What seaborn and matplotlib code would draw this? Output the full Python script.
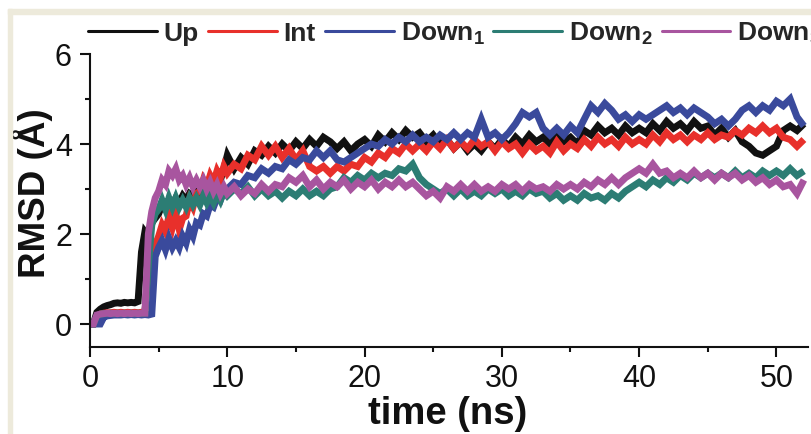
import numpy as np
import pandas as pd
import matplotlib
matplotlib.use("Agg")
import matplotlib.pyplot as plt
from matplotlib.lines import Line2D
from matplotlib.patches import Rectangle
from matplotlib.ticker import MultipleLocator
import seaborn as sns

# ---- data: RMSD (Angstrom) vs simulation time (ns) ----
# sampling: every 0.25 ns up to 10 ns, then every 0.5 ns up to 52 ns
time_ns = np.concatenate([np.arange(0, 10, 0.25), np.arange(10, 52.01, 0.5)])

rmsd_up = [
    0.00, 0.00, 0.26, 0.33, 0.38, 0.41, 0.43, 0.46, 0.47, 0.46,
    0.48, 0.47, 0.48, 0.47, 0.50, 1.60, 2.05, 1.95, 2.25, 2.35,
    2.45, 2.65, 2.55, 2.75, 2.65, 2.80, 2.70, 2.85, 2.75, 2.90,
    2.85, 3.05, 2.95, 3.15, 3.05, 3.25, 3.10, 3.30, 3.20, 3.45,
    3.75, 3.45, 3.70, 3.55, 3.85, 3.75, 3.95, 3.80, 4.00, 3.85,
    4.05, 3.90, 4.10, 3.95, 4.15, 4.05, 3.90, 4.05, 3.85, 4.00,
    4.10, 3.95, 4.20, 4.05, 4.25, 4.10, 4.30, 4.15, 4.25, 4.05,
    4.20, 4.00, 4.10, 3.90, 4.05, 3.85, 4.00, 3.85, 4.05, 3.90,
    4.10, 3.95, 4.15, 4.00, 4.20, 4.05, 4.15, 4.00, 4.20, 4.05,
    4.15, 4.00, 4.30, 4.20, 4.40, 4.25, 4.35, 4.20, 4.40, 4.25,
    4.35, 4.25, 4.45, 4.30, 4.50, 4.35, 4.45, 4.30, 4.50, 4.35,
    4.40, 4.20, 4.35, 4.15, 4.30, 4.05, 3.95, 3.80, 3.75, 3.85,
    3.95, 4.30, 4.40, 4.30, 4.45,
]

rmsd_int = [
    0.00, 0.00, 0.12, 0.22, 0.24, 0.25, 0.25, 0.26, 0.25, 0.26,
    0.25, 0.26, 0.25, 0.26, 0.25, 0.26, 0.26, 1.20, 1.60, 1.75,
    1.95, 2.20, 2.05, 2.40, 2.15, 2.45, 2.10, 2.35, 2.40, 2.75,
    2.60, 2.90, 2.95, 3.20, 3.05, 3.30, 3.15, 3.40, 3.25, 3.50,
    3.35, 3.55, 3.45, 3.75, 3.65, 3.95, 3.75, 3.95, 3.70, 3.90,
    3.65, 3.85, 3.50, 3.40, 3.50, 3.35, 3.50, 3.40, 3.55, 3.50,
    3.70, 3.60, 3.80, 3.70, 3.90, 3.80, 4.00, 3.85, 4.00, 3.85,
    4.05, 3.90, 4.10, 3.90, 4.05, 3.90, 4.10, 3.95, 4.05, 3.85,
    4.05, 3.90, 4.00, 3.80, 4.00, 3.85, 3.95, 3.80, 4.05, 3.85,
    4.00, 3.90, 4.10, 3.95, 4.15, 4.00, 4.10, 3.95, 4.15, 4.00,
    4.10, 4.00, 4.20, 4.05, 4.25, 4.10, 4.20, 4.05, 4.20, 4.10,
    4.25, 4.10, 4.20, 4.15, 4.30, 4.20, 4.35, 4.25, 4.40, 4.25,
    4.35, 4.15, 4.10, 3.95, 4.10,
]

rmsd_down1 = [
    0.00, 0.00, 0.00, 0.00, 0.15, 0.18, 0.19, 0.20, 0.20, 0.20,
    0.21, 0.20, 0.21, 0.20, 0.21, 0.20, 0.21, 0.20, 0.22, 1.50,
    1.70, 1.85, 1.65, 1.90, 1.70, 1.85, 1.70, 1.95, 1.80, 2.10,
    1.95, 2.25, 2.20, 2.45, 2.40, 2.65, 2.60, 2.80, 2.75, 2.95,
    3.00, 3.15, 3.10, 3.30, 3.25, 3.45, 3.35, 3.50, 3.45, 3.65,
    3.55, 3.70, 3.65, 3.85, 3.70, 3.85, 3.65, 3.60, 3.70, 3.80,
    3.90, 4.00, 3.95, 4.10, 4.00, 4.15, 4.05, 4.20, 4.05, 4.15,
    4.05, 4.20, 4.10, 4.25, 4.10, 4.25, 4.15, 4.55, 4.15, 4.25,
    4.10, 4.25, 4.45, 4.70, 4.60, 4.70, 4.35, 4.20, 4.35, 4.20,
    4.40, 4.25, 4.55, 4.85, 4.70, 4.90, 4.75, 4.55, 4.65, 4.50,
    4.65, 4.55, 4.65, 4.75, 4.85, 4.70, 4.80, 4.65, 4.80, 4.70,
    4.60, 4.45, 4.55, 4.40, 4.55, 4.75, 4.85, 4.70, 4.85, 4.75,
    4.95, 4.85, 5.00, 4.60, 4.40,
]

rmsd_down2 = [
    0.00, 0.00, 0.18, 0.22, 0.23, 0.23, 0.24, 0.23, 0.24, 0.23,
    0.24, 0.23, 0.24, 0.23, 0.24, 0.23, 0.24, 1.30, 2.20, 2.45,
    2.55, 2.75, 2.55, 2.80, 2.60, 2.80, 2.60, 2.75, 2.60, 2.80,
    2.65, 2.80, 2.65, 2.85, 2.70, 2.85, 2.70, 2.90, 2.75, 2.95,
    2.85, 3.00, 2.90, 3.05, 2.85, 3.00, 2.85, 2.95, 2.80, 2.95,
    2.85, 3.00, 2.85, 2.95, 2.85, 3.00, 3.05, 3.25, 3.15, 3.30,
    3.20, 3.35, 3.25, 3.35, 3.30, 3.45, 3.40, 3.55, 3.25, 3.10,
    3.00, 2.90, 3.00, 2.85, 3.00, 2.85, 2.95, 2.85, 3.00, 2.90,
    3.00, 2.85, 2.95, 2.85, 3.00, 2.90, 2.95, 2.80, 2.90, 2.75,
    2.85, 2.75, 2.90, 2.80, 2.85, 2.75, 2.90, 2.80, 2.95, 3.05,
    3.15, 3.05, 3.20, 3.10, 3.25, 3.15, 3.30, 3.20, 3.35, 3.25,
    3.35, 3.25, 3.35, 3.25, 3.40, 3.25, 3.35, 3.25, 3.40, 3.30,
    3.40, 3.30, 3.45, 3.30, 3.40,
]

rmsd_down3 = [
    0.00, 0.00, 0.20, 0.22, 0.23, 0.24, 0.23, 0.24, 0.23, 0.24,
    0.23, 0.24, 0.23, 0.24, 0.23, 0.24, 0.24, 2.00, 2.50, 2.80,
    2.95, 3.20, 3.10, 3.40, 3.30, 3.45, 3.20, 3.30, 3.10, 3.25,
    3.05, 3.20, 3.05, 3.20, 3.00, 3.15, 2.95, 3.10, 2.90, 3.05,
    2.90, 3.05, 2.85, 3.00, 2.90, 3.10, 2.95, 3.10, 3.05, 3.25,
    3.15, 3.30, 3.05, 3.20, 3.00, 3.15, 3.05, 3.20, 3.00, 3.15,
    3.05, 3.20, 3.00, 3.15, 3.05, 3.20, 3.05, 3.15, 3.00, 2.85,
    2.95, 2.80, 3.05, 2.95, 3.10, 2.95, 3.10, 2.95, 3.05, 2.95,
    3.10, 3.00, 3.10, 2.95, 3.10, 3.00, 3.05, 2.95, 3.10, 3.00,
    3.10, 3.00, 3.15, 3.05, 3.20, 3.10, 3.25, 3.10, 3.25, 3.35,
    3.45, 3.35, 3.55, 3.35, 3.40, 3.25, 3.35, 3.25, 3.40, 3.25,
    3.35, 3.20, 3.35, 3.25, 3.35, 3.20, 3.30, 3.15, 3.25, 3.10,
    3.20, 3.05, 3.10, 2.90, 3.20,
]

systems = ["Up", "Int", "Down1", "Down2", "Down3"]
legend_labels = ["Up", "Int", r"Down$_\mathbf{1}$", r"Down$_\mathbf{2}$", r"Down$_\mathbf{3}$"]
colors = ["#111111", "#e8302b", "#3a4a9c", "#2c7d74", "#a8559f"]
x_ticks = [0, 10, 20, 30, 40, 50]
y_ticks = [0, 2, 4, 6]

series = [rmsd_up, rmsd_int, rmsd_down1, rmsd_down2, rmsd_down3]
df = pd.concat(
    [pd.DataFrame({"time": time_ns, "rmsd": vals, "system": name})
     for name, vals in zip(systems, series)],
    ignore_index=True,
)

# ---- style ----
sns.set_theme(style="ticks")
plt.rcParams["font.family"] = ["Liberation Sans", "DejaVu Sans"]
plt.rcParams["mathtext.fontset"] = "custom"
plt.rcParams["mathtext.rm"] = "Liberation Sans"
plt.rcParams["mathtext.bf"] = "Liberation Sans:bold"
plt.rcParams["mathtext.it"] = "Liberation Sans:italic"

W, H = 811, 435
fig = plt.figure(figsize=(W / 100, H / 100), dpi=100)
fig.patch.set_facecolor("white")

# page border strips
border = "#edeadb"
fig.patches.append(Rectangle((8 / W, 0), 4 / W, (H - 10) / H,
                             transform=fig.transFigure, color=border, zorder=0))
fig.patches.append(Rectangle((8 / W, (H - 15) / H), 1 - 8 / W, 5 / H,
                             transform=fig.transFigure, color=border, zorder=0))

ax = fig.add_axes([90 / W, 87.5 / H, 718 / W, 292.5 / H])
ax.set_facecolor("none")

# thick traces so each noisy RMSD series reads as a band
sns.lineplot(data=df, x="time", y="rmsd", hue="system", hue_order=systems,
             palette=colors, linewidth=5.0, estimator=None, sort=False,
             legend=False, ax=ax)
for ln in ax.get_lines():
    ln.set_solid_joinstyle("miter")
    ln.set_solid_capstyle("butt")

ax.set_xlim(0, 52.3)
ax.set_ylim(-0.5, 6)
ax.set_xticks(x_ticks)
ax.set_yticks(y_ticks)
ax.xaxis.set_minor_locator(MultipleLocator(5))
ax.yaxis.set_minor_locator(MultipleLocator(1))

for side in ("top", "right"):
    ax.spines[side].set_visible(False)
for side in ("left", "bottom"):
    ax.spines[side].set_linewidth(1.5)
    ax.spines[side].set_color("#111111")
    ax.spines[side].set_zorder(5)

ax.tick_params(which="major", direction="out", length=7.2, width=1.5,
               labelsize=22, colors="#111111")
ax.tick_params(which="minor", direction="out", length=3.6, width=1.5,
               colors="#111111")
ax.tick_params(axis="y", which="major", pad=5.8)
ax.tick_params(axis="x", which="major", pad=5)

ax.set_xlabel("time (ns)", fontsize=27.5, fontweight="bold", color="#111111")
ax.set_ylabel("RMSD (Å)", fontsize=26.5, fontweight="bold", color="#111111")
ax.xaxis.set_label_coords(0.4986, -0.166)
ax.yaxis.label.set_va("center")
ax.yaxis.set_label_coords(-0.0805, 0.528)

handles = [Line2D([], [], color=c, lw=2.2) for c in colors]
fig.legend(handles, legend_labels, loc="center left",
           bbox_to_anchor=(88 / W, 1 - 34 / H), ncol=5, frameon=False,
           prop={"size": 19, "weight": "bold"}, handlelength=2.6,
           handletextpad=0.27, columnspacing=0.34, borderpad=0,
           borderaxespad=0)

fig.savefig("out.png", dpi=100)
